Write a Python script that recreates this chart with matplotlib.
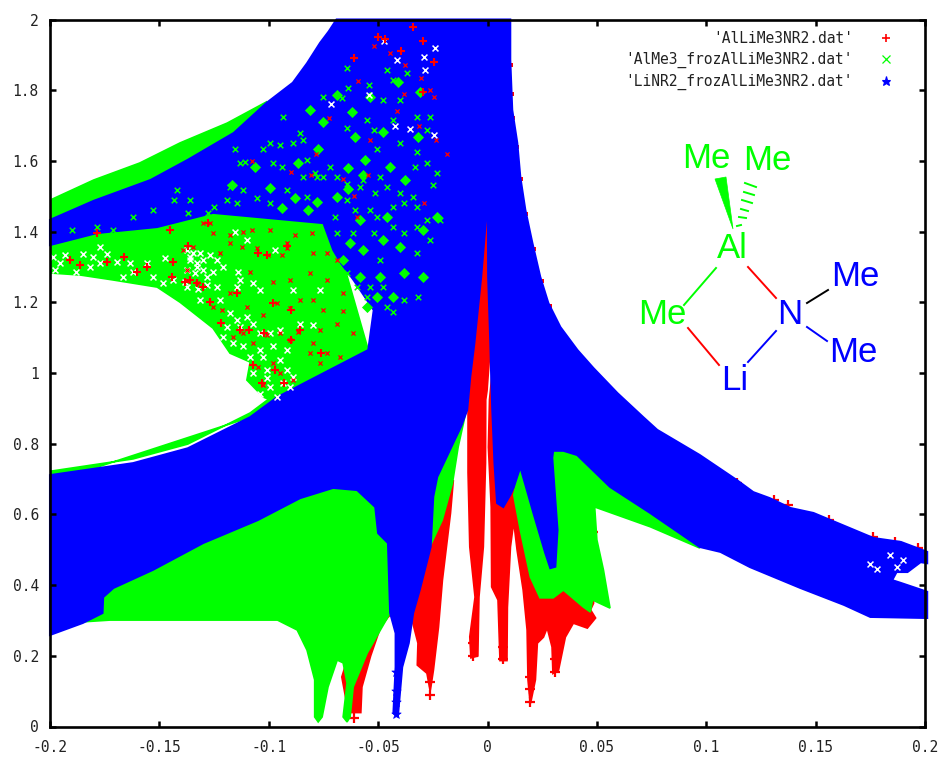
# plot.py
import matplotlib
matplotlib.use('Agg')
import matplotlib.pyplot as plt
from matplotlib.lines import Line2D
from matplotlib.patches import Polygon

RED = '#ff0000'
GREEN = '#00ff00'
BLUE = '#0000ff'

x_ticks = [-0.2, -0.15, -0.1, -0.05, 0, 0.05, 0.1, 0.15, 0.2]
x_labels = ['-0.2', '-0.15', '-0.1', '-0.05', '0', '0.05', '0.1', '0.15', '0.2']
y_ticks = [0, 0.2, 0.4, 0.6, 0.8, 1, 1.2, 1.4, 1.6, 1.8, 2]
y_labels = ['0', '0.2', '0.4', '0.6', '0.8', '1', '1.2', '1.4', '1.6', '1.8', '2']
series_names = ["'AlLiMe3NR2.dat'", "'AlMe3_frozAlLiMe3NR2.dat'", "'LiNR2_frozAlLiMe3NR2.dat'"]

# envelopes of the dense point clouds
blue_cloud = [(-.2, 1.433), (-.18, 1.487), (-.154, 1.546), (-.137, 1.603), (-.116, 1.679), (-.101, 1.764),
              (-.089, 1.821), (-.0825, 1.876), (-.0765, 1.934), (-.0726, 1.966), (-.069, 2.0), (.0104, 2.0),
              (.0104, 1.886), (.0113, 1.744), (.0136, 1.651), (.015, 1.554), (.0173, 1.461), (.0205, 1.368),
              (.0241, 1.272), (.0278, 1.198), (.0333, 1.13), (.0411, 1.065), (.0484, 1.014), (.0594, .943),
              (.0712, .875), (.0776, .839), (.097, .768), (.114, .697), (.1215, .663), (.129, .646),
              (.1385, .618), (.149, .604), (.1645, .564), (.1765, .533), (.189, .522), (.201, .494),
              (.201, .462), (.198, .465), (.192, .437), (.187, .437), (.185, .414), (.189, .406), (.201, .381),
              (.201, .307), (.175, .31), (.163, .344), (.143, .392), (.120, .451), (.1065, .494), (.097, .508),
              (.0744, .604), (.056, .678), (.041, .768), (.0347, .78), (.030, .78), (.0296, .76), (.032, .556),
              (.031, .452), (.0287, .448), (.0264, .491), (.021, .604), (.015, .734), (.012, .677), (.0104, .655),
              (.0072, .621), (.0044, .632), (.0032, .745), (.0022, .895), (.0017, .989), (.0013, 1.085),
              (.0003, 1.272), (.0002, 1.441), (-.0002, 1.518), (-.0006, 1.441), (-.0029, 1.272), (-.006, 1.085),
              (-.0079, .989), (-.0093, .895), (-.012, .85), (-.023, .706),
              (-.0248, .65), (-.026, .508), (-.031, .386), (-.034, .321), (-.036, .236), (-.039, .168),
              (-.041, .027), (-.043, .038), (-.042, .168), (-.042, .264), (-.0445, .321), (-.0455, .519),
              (-.05, .547), (-.0513, .621), (-.0596, .669), (-.0706, .675), (-.0857, .646), (-.105, .584),
              (-.13, .519), (-.153, .443), (-.171, .392), (-.1757, .366), (-.176, .321), (-.185, .293),
              (-.2, .259), (-.2, .711), (-.162, .745), (-.137, .787), (-.1085, .875), (-.096, .932),
              (-.0545, 1.065), (-.052, 1.178), (-.0612, 1.263), (-.067, 1.311), (-.0705, 1.348), (-.075, 1.424),
              (-.1255, 1.453), (-.151, 1.413), (-.1785, 1.396), (-.2, 1.362)]

green_lobe = [(-.2, 1.489), (-.18, 1.546), (-.159, 1.594), (-.1405, 1.651), (-.119, 1.707), (-.101, 1.767),
              (-.07, 1.4), (-.0545, 1.065), (-.096, .915), (-.1025, .932), (-.11, .98), (-.1085, 1.031),
              (-.1177, 1.056), (-.1255, 1.127), (-.1405, 1.2), (-.151, 1.243), (-.171, 1.263), (-.186, 1.277),
              (-.2, 1.283)]
green_fringe = [(-.2, .722), (-.162, .757), (-.137, .799), (-.1085, .887), (-.096, .945), (-.096, .9), (-.2, .69)]
green_left = [(-.185, .296), (-.1726, .301), (-.096, .301), (-.087, .273), (-.0825, .216), (-.079, .132),
              (-.079, .027), (-.0774, .013), (-.0756, .027), (-.0729, .112), (-.0687, .188), (-.066, .18),
              (-.0642, .123), (-.066, .027), (-.0642, .013), (-.0628, .027), (-.0614, .112), (-.055, .208),
              (-.0445, .321), (-.0435, .7), (-.1, .72), (-.19, .45)]
green_strip = [(-.027, .5), (-.0207, .584), (-.016, .689), (-.0134, .791), (-.011, .858), (-.0088, .924),
               (-.012, .924), (-.03, .6)]
green_right = [(.012, .655), (.015, .556), (.0196, .423), (.024, .364), (.030, .364), (.0347, .386), (.0438, .338),
               (.047, .324), (.048, .358), (.056, .335), (.053, .443), (.05, .528), (.049, .621), (.0744, .565),
               (.097, .505), (.097, .55), (.04, .8), (.028, .8), (.028, .45), (.015, .74)]

red_wedge = [(-.0665, .14), (-.0635, .04), (-.058, .04), (-.0575, .112), (-.0535, .2), (-.049, .281),
             (-.0455, .31), (-.0435, .321), (-.047, .36), (-.0625, .22)]
red_left = [(-.027, .508), (-.0157, .697), (-.017, .604), (-.0207, .414), (-.0225, .281), (-.0248, .16),
            (-.0262, .103), (-.0276, .151), (-.032, .174), (-.0317, .236), (-.0344, .301), (-.0308, .395)]
red_spike = [(-.0002, 1.518), (.0003, 1.272), (.0013, 1.085), (-.0003, .95), (-.0009, .924), (-.001, .745),
             (-.002, .508), (-.004, .366), (-.0045, .2), (-.0075, .195), (-.008, .254), (-.0056, .366), (-.008, .508),
             (-.0088, .718), (-.0088, .924), (-.0079, .989), (-.006, 1.085), (-.0029, 1.272), (-.0006, 1.441)]
red_right = [(.0022, 1.0), (.001, .924), (.0005, .79), (.0018, .62), (.002, .395), (.0049, .358), (.0058, .187),
             (.0088, .187), (.009, .337), (.0104, .508), (.012, .584), (.0136, .5), (.0164, .386), (.0182, .273),
             (.0186, .132), (.0196, .066), (.0218, .132), (.0227, .236), (.0255, .253), (.0273, .281), (.0296, .225),
             (.03, .151), (.0324, .16), (.0355, .253), (.0392, .293), (.0456, .279), (.0493, .307), (.047, .33),
             (.0484, .349), (.048, .4), (.03, .5), (.02, .55), (.012, .7), (.008, .8)]

# red points peeking out under the green and blue clouds: tips and fringes
red_edge_x = [-.0612, -.0612, -.0612, -.0262, -.0262, -.0065, -.0065, .0073, .0073, .0196, .0196, .0196, .031, .031,
              .114, .131, .1375, .156, .176, .1865, .197, .048, .047]
red_edge_y = [.025, .06, .095, .09, .125, .2, .235, .19, .225, .07, .105, .14, .155, .19,
              .689, .641, .626, .584, .536, .522, .505, .55, .5]

# small red rim along the right side of the blue cloud
red_rim_x = [.0108, .0112, .0116, .0136, .0155, .0178, .0212, .0248, .0285]
red_rim_y = [1.87, 1.79, 1.72, 1.64, 1.55, 1.45, 1.35, 1.26, 1.19]

# large red crosses in the lobe and on top of the blue cloud
red_big_x = [-.1909, -.1863, -.1741, -.1604, -.1558, -.1436, -.1444, -.1383, -.133, -.13, -.136, -.127, -.1145,
             -.122, -.113, -.109, -.102, -.09, -.107, -.097, -.103, -.09, -.098, -.105, -.101, -.0916, -.128, -.145,
             -.137, -.166, -.1786, -.0855, -.076, -.093, -.061, -.05, -.047, -.0295, -.0395, -.0245, -.0295, -.034]
red_big_y = [1.32, 1.306, 1.315, 1.286, 1.301, 1.315, 1.272, 1.258, 1.254, 1.244, 1.263, 1.202, 1.225,
             1.141, 1.122, 1.122, 1.112, 1.093, 1.023, 1.009, .971, 1.178, 1.197, 1.339, 1.334, 1.358, 1.423, 1.404,
             1.358, 1.329, 1.395, 1.122, 1.056, .971, 1.89, 1.95, 1.945, 1.94, 1.91, 1.88, 1.796, 1.98]

# small red points scattered through the green lobe and the top of the blue cloud
red_small_x = [-.127, -.1253, -.1177, -.1116, -.1078, -.0994, -.0918, -.088, -.0804, -.1124, -.1055, -.1002, -.0941,
               -.0918, -.0796, -.0735, -.0689, -.1223, -.1177, -.1086, -.0979, -.0903, -.0811, -.0735, -.0659,
               -.0796, -.0857, -.0964, -.0903, -.075, -.0659, -.0689, -.0613, -.0765, -.0865, -.0948, -.0796, -.0735,
               -.0674, -.0811, -.0903, -.1025, -.11, -.1177, -.1253, -.1215, -.1116, -.1162, -.107, -.101, -.0948,
               -.0979, -.1048, -.1025, -.0887, -.0765, -.1345, -.13, -.139, -.133, -.1376,
               -.0445, -.052, -.0378, -.0592, -.0305, -.0382, -.0264, -.0246, -.0415, -.0725, -.0535, -.0785,
               -.0315, -.0185, -.0235, -.066, -.0612, -.0545, -.0292, -.0805, -.09, -.1075, -.0595]
red_small_y = [1.423, 1.395, 1.39, 1.4, 1.404, 1.404, 1.367, 1.39, 1.395, 1.357, 1.353, 1.334, 1.334,
               1.353, 1.339, 1.339, 1.32, 1.339, 1.367, 1.287, 1.258, 1.263, 1.282, 1.263, 1.225,
               1.207, 1.207, 1.197, 1.183, 1.178, 1.174, 1.14, 1.112, 1.122, 1.117, 1.112, 1.084, 1.056,
               1.046, 1.056, 1.093, 1.164, 1.188, 1.225, 1.188, 1.178, 1.112, 1.103, 1.084, 1.108, .999,
               1.027, 1.018, .966, .98, 1.027, 1.357, 1.423, 1.348, 1.254, 1.291,
               1.905, 1.925, 1.87, 1.825, 1.835, 1.79, 1.8, 1.78, 1.74, 1.72, 1.66, 1.62,
               1.7, 1.62, 1.66, 1.55, 1.5, 1.56, 1.48, 1.56, 1.57, 1.6, 1.44]

# gaps of the green cloud inside the lobe, and a few holes higher up in the blue cloud
white_x = [-.1985, -.1955, -.1932, -.1848, -.1772, -.1802, -.1741, -.1696, -.1635, -.1558, -.1475, -.136, -.1978,
           -.1879, -.1818, -.1772, -.1665, -.1619, -.1528, -.1436, -.133, -.1284, -.1375, -.1482,
           -.1376, -.1345, -.1314, -.136, -.133, -.13, -.127, -.1238, -.1376, -.1337, -.13, -.1253, -.1208,
           -.1383, -.1322, -.1284, -.1238, -.1139, -.1131, -.1147, -.107, -.104, -.1314, -.1223, -.1177, -.1147,
           -.11, -.107, -.1131, -.1192, -.104, -.0994, -.0948, -.1208, -.1162, -.1116, -.104, -.0979, -.0918,
           -.0857, -.0796, -.1086, -.1025, -.0948, -.107, -.101, -.0918, -.0887, -.0994, -.0933, -.0903, -.104,
           -.0964, -.101, -.0971, -.11, -.1154, -.0887, -.0765,
           -.0475, -.029, -.0285, -.024, -.0415, -.054, -.0715, -.0425, -.0355, -.0245, .175, .178, .184, .187, .19]
white_y = [1.329, 1.31, 1.334, 1.338, 1.357, 1.329, 1.338, 1.315, 1.31, 1.31, 1.324, 1.329, 1.291,
           1.286, 1.301, 1.31, 1.272, 1.286, 1.272, 1.263, 1.301, 1.272, 1.244, 1.254,
           1.348, 1.339, 1.339, 1.32, 1.31, 1.32, 1.334, 1.32, 1.291, 1.282, 1.291, 1.287, 1.301,
           1.258, 1.239, 1.249, 1.244, 1.287, 1.263, 1.244, 1.254, 1.235, 1.207, 1.207, 1.17, 1.15,
           1.159, 1.14, 1.131, 1.131, 1.112, 1.112, 1.122, 1.103, 1.084, 1.075, 1.065, 1.075, 1.065,
           1.14, 1.136, 1.046, 1.046, 1.037, .999, 1.009, 1.009, .99, .961, .971, .961, .942,
           .933, .985, 1.348, 1.376, 1.4, 1.235, 1.235,
           1.94, 1.895, 1.857, 1.918, 1.885, 1.787, 1.76, 1.698, 1.69, 1.673, .46, .445, .485, .45, .47]

# solid clumps of green showing through the blue cloud
green_blob_x = [-.117, -.0994, -.0865, -.1063, -.0773, -.0636, -.056, -.0689, -.0781, -.088, -.0941, -.0819, -.0582,
                -.046, -.0316, -.0476, -.0605, -.0537, -.0689, -.0407, -.0308, -.0811, -.075, -.062, -.0445, -.0377,
                -.0628, -.0567, -.0476, -.0659, -.0582, -.0491, -.0384, -.0293, -.04, -.0293, -.0232, -.0552, -.0506,
                -.043, -.0636, -.0567]
green_blob_y = [1.532, 1.522, 1.593, 1.584, 1.635, 1.579, 1.602, 1.499, 1.485, 1.494, 1.466, 1.461, 1.433,
                1.442, 1.669, 1.683, 1.669, 1.782, 1.787, 1.824, 1.796, 1.744, 1.711, 1.739, 1.584, 1.546,
                1.367, 1.348, 1.376, 1.32, 1.272, 1.272, 1.282, 1.272, 1.357, 1.404, 1.442, 1.188, 1.216,
                1.216, 1.52, 1.56]

# thinner chains of green points around the clumps
green_specks_x = [-.1154, -.113, -.111, -.1025, -.0994, -.095, -.0933, -.0887, -.0857, -.0842, -.098, -.0941, -.0826,
                  -.0788, -.0781, -.072, -.0689, -.0643, -.0582, -.0514, -.046, -.04, -.0339, -.0323, -.0384, -.043,
                  -.0537, -.0506, -.0643, -.0605, -.0697, -.0689, -.0613, -.0521, -.043, -.0384, -.0323, -.0278,
                  -.0217, -.0262, -.0323, -.0491, -.0643, -.0598, -.0537, -.0476, -.0552, -.046, -.0384, -.0316, -.043,
                  -.046, -.0369, -.043, -.0643, -.075, -.0636, -.0666, -.0544, -.0476, -.04, -.0552, -.0643, -.0521,
                  -.043, -.0323, -.0262, -.0278, -.04, -.0506, -.0323, -.0278, -.0232, -.0247, -.0331, -.0491, -.0842,
                  -.0918, -.1055, -.1116, -.1192, -.1147, -.0994, -.0826, -.075, -.0567, -.142, -.1435, -.136, -.153,
                  -.162, -.1786, -.19, -.171, -.137, -.128, -.1176, -.125]
green_specks_y = [1.635, 1.593, 1.598, 1.635, 1.65, 1.645, 1.725, 1.65, 1.678, 1.659, 1.593, 1.584, 1.603,
                  1.565, 1.555, 1.584, 1.555, 1.536, 1.527, 1.508, 1.527, 1.508, 1.499, 1.47, 1.48, 1.471,
                  1.461, 1.442, 1.489, 1.461, 1.442, 1.395, 1.395, 1.395, 1.414, 1.395, 1.414, 1.433,
                  1.433, 1.376, 1.339, 1.32, 1.282, 1.244, 1.244, 1.244, 1.216, 1.188, 1.207, 1.216, 1.173,
                  1.857, 1.848, 1.83, 1.862, 1.782, 1.805, 1.777, 1.815, 1.773, 1.773, 1.716, 1.692, 1.687,
                  1.716, 1.725, 1.725, 1.687, 1.65, 1.635, 1.624, 1.593, 1.565, 1.532, 1.584, 1.555, 1.555,
                  1.518, 1.494, 1.518, 1.489, 1.48, 1.48, 1.499, 1.555, 1.546, 1.518, 1.49, 1.49, 1.461,
                  1.442, 1.414, 1.404, 1.404, 1.452, 1.452, 1.527, 1.47]

blue_tips_x = [-.042, -.042, -.042, -.042]
blue_tips_y = [.035, .07, .1, .155]

# bonds of the inset molecule, in figure pixels
bond_colors = [GREEN, RED, RED, BLUE, 'black', BLUE]
bond_ends = [((716, 268), (684, 305)), ((748, 267), (776, 298)), ((688, 328), (719, 365)),
             ((776, 331), (748, 362)), ((807, 303), (828, 290)), ((807, 327), (827, 341))]
hash_ends = [((737, 226), (741, 225)), ((739, 217), (746, 218)), ((741, 209), (748, 211)),
             ((742, 200), (752, 203)), ((744, 192), (754, 195)), ((745, 183), (756, 187))]
atom_names = ['Me', 'Me', 'Al', 'Me', 'N', 'Li', 'Me', 'Me']
atom_colors = [GREEN, GREEN, GREEN, GREEN, BLUE, BLUE, BLUE, BLUE]
atom_places = [(706, 158), (767, 161), (732, 249), (662, 314), (790, 314), (735, 380), (855, 277), (853, 353)]
wedge_corners = [(715, 179), (726, 177), (733, 229)]

W, H = 946, 759


def fig_xy(p):
    return p[0] / W, 1 - p[1] / H


fig = plt.figure(figsize=(W / 100, H / 100), dpi=100)
ax = fig.add_axes([50 / W, 1 - 726.5 / H, 875 / W, 707 / H])
ax.set_xlim(-0.2, 0.2)
ax.set_ylim(0, 2)

# same drawing order as the plot file: red, then green, then blue on top
for shape in [red_wedge, red_left, red_spike, red_right]:
    ax.add_patch(Polygon(shape, closed=True, fc=RED, ec=RED, lw=1.5, zorder=1))
ax.scatter(red_edge_x, red_edge_y, marker='+', s=50, lw=1.6, c=RED, zorder=1.1)
ax.scatter(red_rim_x, red_rim_y, marker='s', s=6, lw=0, c=RED, zorder=1.1)

for shape in [green_lobe, green_fringe, green_left, green_strip, green_right]:
    ax.add_patch(Polygon(shape, closed=True, fc=GREEN, ec=GREEN, lw=1.2, zorder=1.2))

ax.add_patch(Polygon(blue_cloud, closed=True, fc=BLUE, ec=BLUE, lw=1.5, zorder=1.5, clip_on=False))
ax.scatter(blue_tips_x, blue_tips_y, marker='*', s=50, c=BLUE, lw=0.5, zorder=1.6)

ax.scatter(green_blob_x, green_blob_y, marker='D', s=32, lw=0, c=GREEN, zorder=1.7)
ax.scatter(green_specks_x, green_specks_y, marker='x', s=16, lw=1.1, c=GREEN, zorder=1.72)
ax.scatter(white_x, white_y, marker='x', s=18, lw=1.1, c='white', zorder=1.8)
ax.scatter(red_small_x, red_small_y, marker='x', s=9, lw=0.9, c=RED, zorder=1.85)
ax.scatter(red_big_x, red_big_y, marker='+', s=36, lw=1.5, c=RED, zorder=1.9)

ax.set_xticks(x_ticks)
ax.set_xticklabels(x_labels)
ax.set_yticks(y_ticks)
ax.set_yticklabels(y_labels)
ax.tick_params(which='major', direction='in', length=4.5, width=1.8, top=True, right=True, labelsize=10.5)
ax.tick_params(axis='x', pad=10)
ax.tick_params(axis='y', pad=8)
for label in ax.get_xticklabels() + ax.get_yticklabels():
    label.set_family('DejaVu Sans Mono')
    label.set_color('#222222')
for s in ax.spines.values():
    s.set_linewidth(1.9)

handles = [Line2D([], [], ls='', marker='+', ms=6, mew=1.2, color=RED),
           Line2D([], [], ls='', marker='x', ms=5.5, mew=0.9, color=GREEN),
           Line2D([], [], ls='', marker='*', ms=6.5, mew=0.8, color=BLUE)]
ax.legend(handles, series_names, loc='upper right', bbox_to_anchor=(0.9775, 1.0), frameon=False, markerfirst=False,
          prop={'family': 'DejaVu Sans Mono', 'size': 10.5}, labelspacing=0.4, handlelength=1.0,
          handletextpad=1.8, borderaxespad=0.0, borderpad=0.8, labelcolor='#222222')

# inset molecule
for ends, color in zip(bond_ends, bond_colors):
    a, b = fig_xy(ends[0]), fig_xy(ends[1])
    fig.add_artist(Line2D([a[0], b[0]], [a[1], b[1]], color=color, lw=1.4, transform=fig.transFigure))
for ends in hash_ends:
    a, b = fig_xy(ends[0]), fig_xy(ends[1])
    fig.add_artist(Line2D([a[0], b[0]], [a[1], b[1]], color=GREEN, lw=1.4, transform=fig.transFigure))
fig.add_artist(Polygon([fig_xy(p) for p in wedge_corners], closed=True, fc=GREEN, ec=GREEN, lw=0.5,
                       transform=fig.transFigure))
for name, color, place in zip(atom_names, atom_colors, atom_places):
    px, py = fig_xy(place)
    fig.text(px, py, name, color=color, family='Liberation Sans', fontsize=25, ha='center', va='center')

fig.savefig('out.png', dpi=100)
